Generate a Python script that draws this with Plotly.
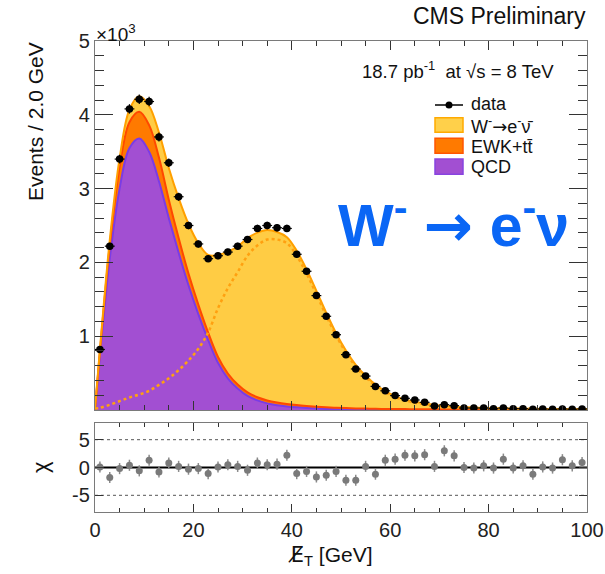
import numpy as np
import plotly.graph_objects as go

# ---------------- data (values in units of 10^3 events) ----------------
bin_centers = [1, 3, 5, 7, 9, 11, 13, 15, 17, 19, 21, 23, 25, 27, 29, 31, 33, 35, 37, 39,
               41, 43, 45, 47, 49, 51, 53, 55, 57, 59, 61, 63, 65, 67, 69, 71, 73, 75, 77, 79,
               81, 83, 85, 87, 89, 91, 93, 95, 97, 99]
data_k = [0.82, 2.22, 3.40, 4.08, 4.21, 4.18, 3.70, 3.35, 2.89, 2.50,
          2.25, 2.05, 2.09, 2.14, 2.22, 2.31, 2.46, 2.50, 2.47, 2.46,
          2.11, 1.88, 1.55, 1.27, 1.02, 0.75, 0.556, 0.46, 0.32, 0.26,
          0.195, 0.158, 0.136, 0.104, 0.054, 0.072, 0.059, 0.027, 0.027, 0.027,
          0.018, 0.027, 0.018, 0.018, 0.009, 0.014, 0.009, 0.014, 0.010, 0.014]
chi = [0.1, -1.8, -0.2, 0.4, -0.6, 1.3, -0.8, 0.8, 0.2, -0.3,
       -0.2, -1.1, 0.1, 0.5, 0.2, -0.5, 0.8, 0.5, 0.6, 2.2,
       -1.1, -0.7, -1.7, -1.4, -0.7, -2.3, -2.3, 0.2, -1.2, 1.3,
       1.5, 2.2, 2.1, 2.3, 0.2, 3.0, 2.1, 0.0, -0.1, 0.3,
       -0.1, 1.5, -0.1, 0.3, -1.2, 0.1, -0.1, 1.4, 0.3, 0.9]

curve_x = [0] + bin_centers + [100]
qcd_k = [0.0, 0.74, 2.05, 3.00, 3.55, 3.68, 3.50, 3.10, 2.60, 2.13, 1.69,
         1.30, 0.95, 0.64, 0.43, 0.29, 0.19, 0.13, 0.09, 0.065, 0.048,
         0.036, 0.027, 0.020, 0.015, 0.011, 0.008, 0.006, 0.005, 0.004, 0.0035,
         0.003, 0.003, 0.0025, 0.0025, 0.002, 0.002, 0.002, 0.0018, 0.0016, 0.0015,
         0.0014, 0.0013, 0.0012, 0.0011, 0.001, 0.001, 0.001, 0.001, 0.001, 0.001, 0.001]
ewk_k = [0.0, 0.05, 0.18, 0.29, 0.35, 0.36, 0.36, 0.32, 0.25, 0.20, 0.16,
         0.13, 0.10, 0.08, 0.065, 0.055, 0.048, 0.043, 0.040, 0.037, 0.034,
         0.031, 0.028, 0.025, 0.022, 0.020, 0.018, 0.016, 0.014, 0.012, 0.011,
         0.010, 0.009, 0.008, 0.007, 0.0065, 0.006, 0.0055, 0.005, 0.0048, 0.0045,
         0.0043, 0.004, 0.0038, 0.0036, 0.0034, 0.0032, 0.003, 0.003, 0.003, 0.003, 0.003]
wsig_k = [0.02, 0.03, 0.07, 0.12, 0.17, 0.21, 0.26, 0.34, 0.43, 0.54, 0.67,
          0.83, 1.05, 1.38, 1.65, 1.87, 2.09, 2.23, 2.31, 2.31, 2.26,
          2.09, 1.85, 1.57, 1.28, 1.01, 0.78, 0.59, 0.445, 0.33, 0.24,
          0.175, 0.13, 0.10, 0.078, 0.06, 0.047, 0.038, 0.031, 0.026, 0.022,
          0.019, 0.017, 0.015, 0.013, 0.012, 0.011, 0.010, 0.009, 0.0085, 0.008, 0.008]

x_ticks = [0, 20, 40, 60, 80, 100]
y_ticks_main = [1, 2, 3, 4, 5]
chi_ticks = [-5, 0, 5]
chi_ticktext = ["-5", "0", "5"]

assert len(data_k) == len(bin_centers) == len(chi)
assert len(qcd_k) == len(ewk_k) == len(wsig_k) == len(curve_x)

data_err = np.sqrt(np.array(data_k) * 1000.0) / 1000.0

# ---------------- styling ----------------
W, H = 605, 574
FONT = "Liberation Sans, Arial, Helvetica, sans-serif"
C_W_FILL, C_W_LINE = "#FFCC44", "#FFA000"
C_E_FILL, C_E_LINE = "#FF7A00", "#FF4800"
C_Q_FILL, C_Q_LINE = "#A24FD2", "#7A3CE6"
ARROW = "<span style='font-family:DejaVu Sans'>\u2192</span>"


def px(x):
    return x / W


def py(y):
    return 1 - y / H


fig = go.Figure()

# stacked fit components
fig.add_trace(go.Scatter(x=curve_x, y=qcd_k, stackgroup="fit", mode="lines",
                         line=dict(color=C_Q_LINE, width=2, shape="spline"),
                         fillcolor=C_Q_FILL, name="QCD", showlegend=False))
fig.add_trace(go.Scatter(x=curve_x, y=ewk_k, stackgroup="fit", mode="lines",
                         line=dict(color=C_E_LINE, width=2, shape="spline"),
                         fillcolor=C_E_FILL, name="EWK", showlegend=False))
fig.add_trace(go.Scatter(x=curve_x, y=wsig_k, stackgroup="fit", mode="lines",
                         line=dict(color=C_W_LINE, width=2, shape="spline"),
                         fillcolor=C_W_FILL, name="W", showlegend=False))
# signal-only dotted curve
fig.add_trace(go.Scatter(x=curve_x, y=wsig_k, mode="lines",
                         line=dict(color="#FFA010", width=2.5, dash="dot", shape="spline"),
                         showlegend=False))
# data
fig.add_trace(go.Scatter(x=bin_centers, y=data_k, mode="markers",
                         marker=dict(color="black", size=7.5),
                         error_y=dict(type="data", array=data_err, color="black", thickness=1.2, width=0),
                         error_x=dict(type="constant", value=1, color="black", thickness=1.2, width=0),
                         showlegend=False))
# chi panel
fig.add_trace(go.Scatter(x=bin_centers, y=chi, mode="markers", xaxis="x2", yaxis="y2",
                         marker=dict(color="#7a7a7a", size=7),
                         error_y=dict(type="constant", value=1, color="#8a8a8a", thickness=1.5, width=0),
                         showlegend=False))

x_dom = [px(95), px(587)]
axis_common = dict(showline=True, linecolor="#7a7a7a", linewidth=1.2, mirror="ticks",
                   showgrid=False, zeroline=False, ticks="inside", tickcolor="#333",
                   automargin=False,
                   tickfont=dict(family=FONT, size=20, color="#222"))

fig.update_layout(
    template="none",
    width=W, height=H, margin=dict(l=0, r=0, t=0, b=0, pad=0), autosize=False,
    paper_bgcolor="white", plot_bgcolor="white", showlegend=False,
    xaxis=dict(domain=x_dom, range=[0, 100], anchor="y", tickvals=x_ticks, showticklabels=False,
               ticklen=9, minor=dict(dtick=5, tick0=0, ticklen=5, ticks="inside", tickcolor="#333"),
               **axis_common),
    yaxis=dict(domain=[py(410), py(41)], range=[0, 5], anchor="x", tickvals=y_ticks_main,
               ticklen=18, minor=dict(dtick=0.2, tick0=0, ticklen=9, ticks="inside", tickcolor="#333"),
               **axis_common),
    xaxis2=dict(domain=x_dom, range=[0, 100], anchor="y2", tickvals=x_ticks,
                ticklen=8, minor=dict(dtick=5, tick0=0, ticklen=4, ticks="inside", tickcolor="#333"),
                **axis_common),
    yaxis2=dict(domain=[py(512), py(423)], range=[-8, 8], anchor="x2", tickvals=chi_ticks,
                ticktext=chi_ticktext, ticklen=8, **axis_common),
)

# chi reference lines
for yv, dash, col, wd in [(5, "dot", "#555", 1), (-5, "dot", "#555", 1), (0, "solid", "black", 2)]:
    fig.add_shape(type="line", xref="x2 domain", yref="y2", x0=0, x1=1, y0=yv, y1=yv,
                  line=dict(color=col, width=wd, dash=dash), layer="below")

# ---------------- legend (manual) ----------------
fig.add_shape(type="line", xref="paper", yref="paper", x0=px(435), x1=px(463), y0=py(105), y1=py(105),
              line=dict(color="black", width=1.5))
fig.add_shape(type="circle", xref="paper", yref="paper", x0=px(445.5), x1=px(452.5),
              y0=py(108.5), y1=py(101.5), fillcolor="black", line=dict(color="black", width=0))
boxes = [(117.7, 132.3, "#FFD04A", "#FFAA00"),
         (138.3, 153.3, "#FF7A00", "#FF5500"),
         (159.0, 174.3, "#A24FD2", "#8844E0")]
for y0, y1, fc, lc in boxes:
    fig.add_shape(type="rect", xref="paper", yref="paper", x0=px(435), x1=px(463),
                  y0=py(y1), y1=py(y0), fillcolor=fc, line=dict(color=lc, width=1.5))

legend_texts = [("data", 104), ("W<sup>-</sup>" + ARROW + "e<sup>-</sup>\u03bd\u0304", 126),
                ("EWK+tt\u0304", 147), ("QCD", 167)]
for txt, yy in legend_texts:
    fig.add_annotation(text=txt, xref="paper", yref="paper", x=px(469), y=py(yy),
                       xanchor="left", yanchor="middle", showarrow=False,
                       font=dict(family=FONT, size=18, color="#111"))

# ---------------- texts ----------------
fig.add_annotation(text="CMS Preliminary", xref="paper", yref="paper", x=px(588), y=py(16),
                   xanchor="right", yanchor="middle", showarrow=False,
                   font=dict(family=FONT, size=23, color="#111"))
fig.add_annotation(text="18.7 pb<sup>-1</sup>  at \u221as = 8 TeV", xref="paper", yref="paper",
                   x=px(458), y=py(70), xanchor="center", yanchor="middle", showarrow=False,
                   font=dict(family=FONT, size=18.5, color="#111"))
fig.add_annotation(text="<b>W<sup>-</sup> " + ARROW + " e<sup>-</sup>\u03bd</b>",
                   xref="paper", yref="paper",
                   x=px(453), y=py(222), xanchor="center", yanchor="middle", showarrow=False,
                   font=dict(family=FONT, size=59, color="#0A66F5"))
fig.add_annotation(text="\u00d710<sup>3</sup>", xref="paper", yref="paper", x=px(94), y=py(33),
                   xanchor="left", yanchor="middle", showarrow=False,
                   font=dict(family=FONT, size=19, color="#111"))
fig.add_annotation(text="Events / 2.0 GeV", xref="paper", yref="paper", x=px(35), y=py(122),
                   xanchor="center", yanchor="middle", textangle=-90, showarrow=False,
                   font=dict(family=FONT, size=21, color="#111"))
fig.add_annotation(text="\u03c7", xref="paper", yref="paper", x=px(40), y=py(467),
                   xanchor="center", yanchor="middle", textangle=-90, showarrow=False,
                   font=dict(family=FONT, size=22, color="#111"))
fig.add_annotation(text="<span style='font-family:DejaVu Sans'>E\u0338</span><sub>T</sub> [GeV]",
                   xref="paper", yref="paper", x=px(330), y=py(556),
                   xanchor="center", yanchor="middle", showarrow=False,
                   font=dict(family=FONT, size=21, color="#111"))

fig.write_html("out.html", config={"displayModeBar": False},
               post_script="document.body.style.margin='0px';")
